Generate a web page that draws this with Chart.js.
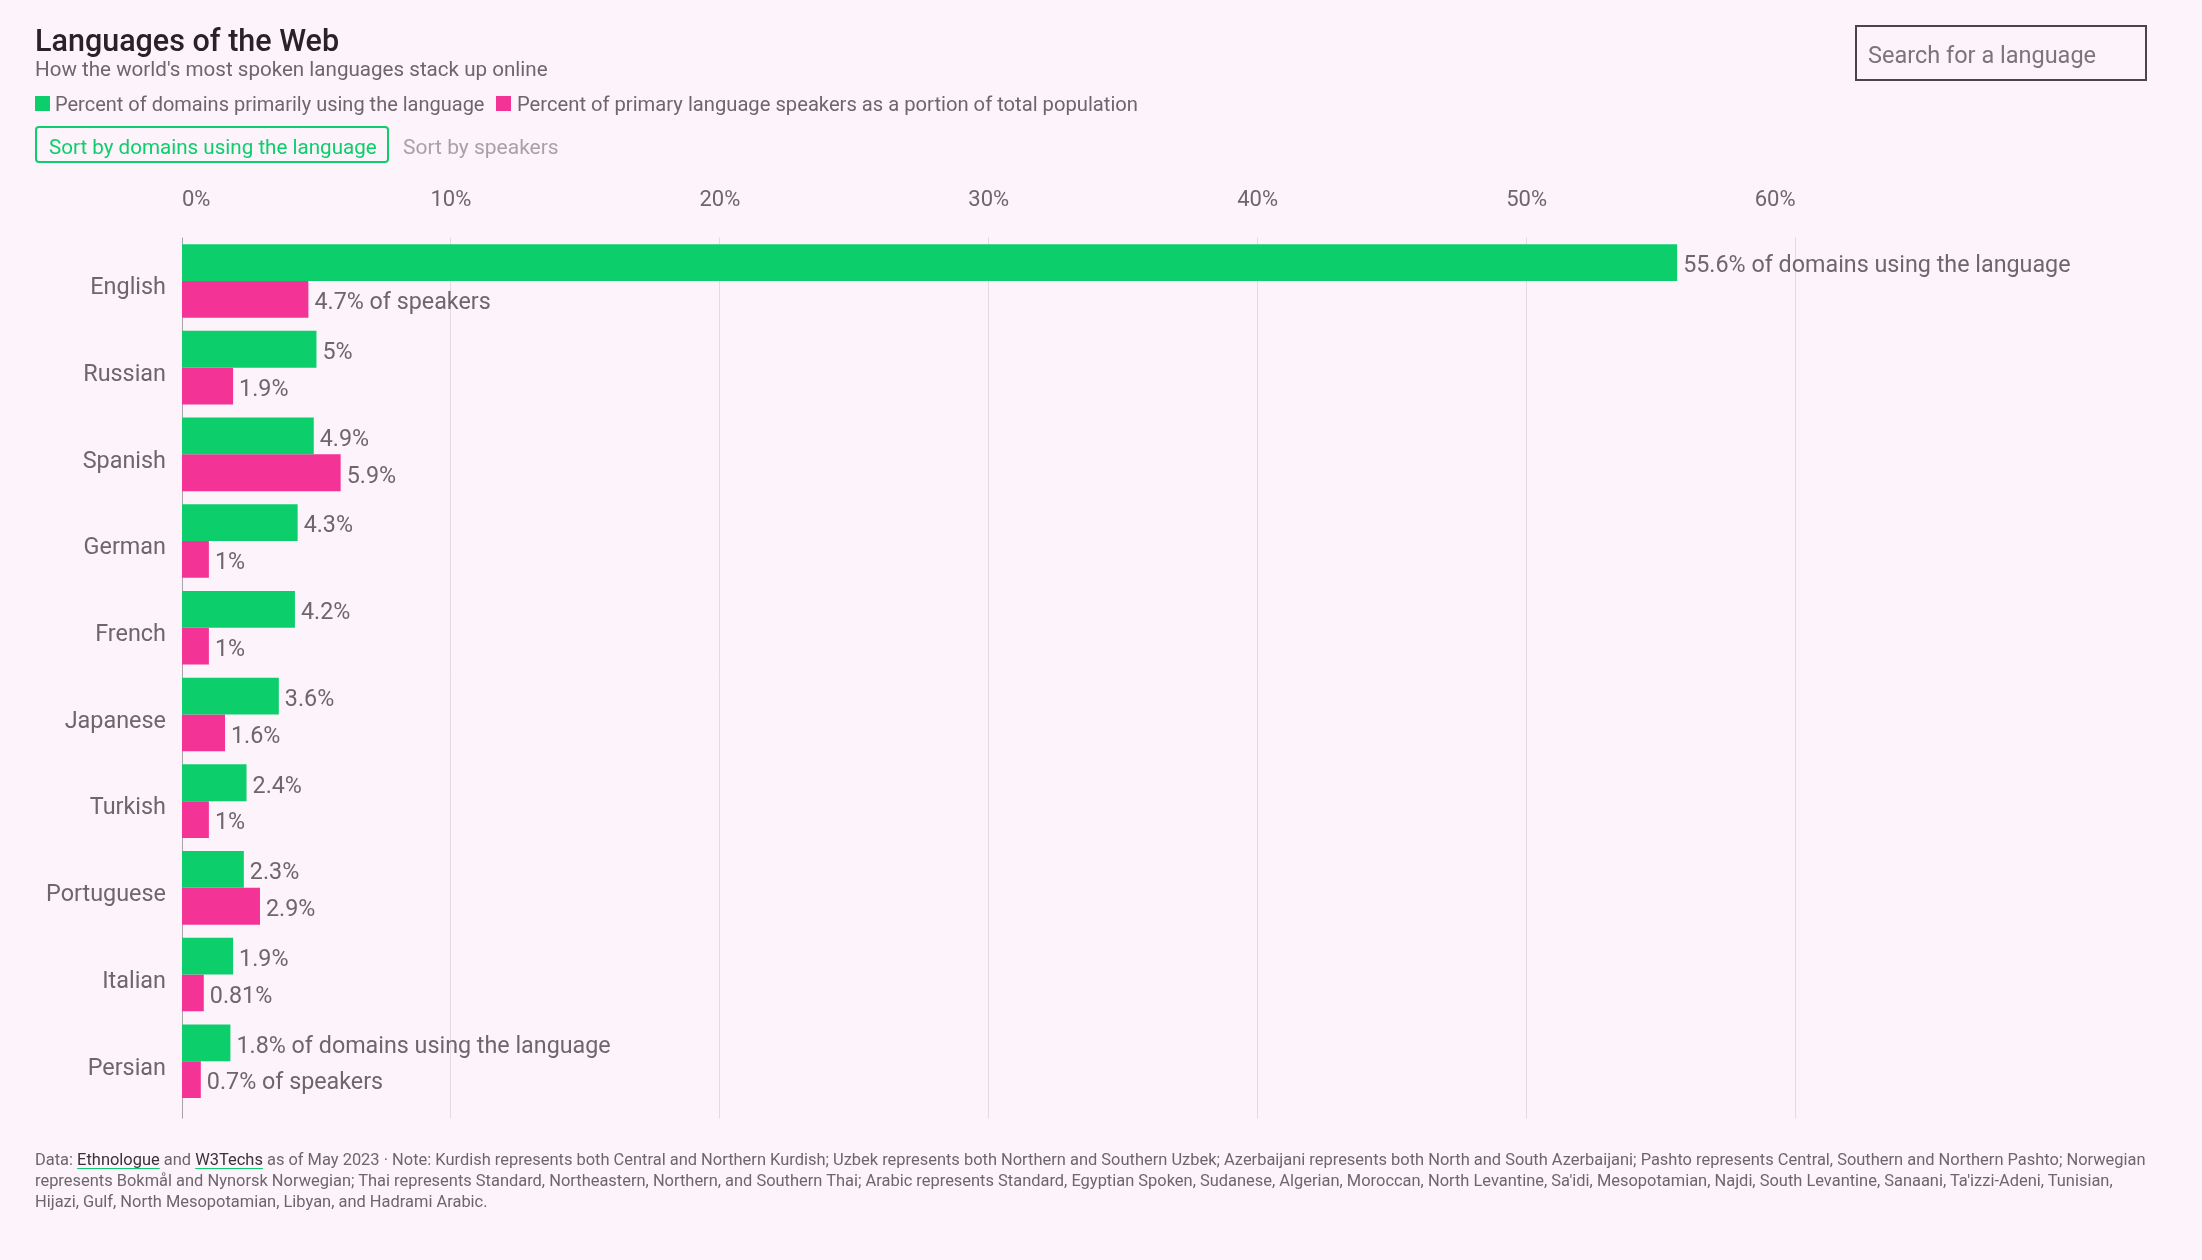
<!DOCTYPE html>
<html>
<head>
<meta charset="utf-8">
<title>Languages of the Web</title>
<script src="https://cdn.jsdelivr.net/npm/chart.js@4/dist/chart.umd.min.js"></script>
<style>
html,body{margin:0;padding:0;background:#fdf3fa;}
body{width:2202px;height:1260px;position:relative;overflow:hidden;font-family:Roboto,sans-serif;color:#6f656d;}
#c{position:absolute;left:0;top:0;}
.t{position:absolute;white-space:nowrap;line-height:1;}
#title{left:35px;top:26px;font-size:30.5px;font-weight:500;color:#2a2228;}
#sub{left:35px;top:59px;font-size:20.6px;}
.sw{position:absolute;top:96px;width:15px;height:15px;}
#btn1{position:absolute;left:35px;top:126px;width:350px;height:33px;border:2px solid #0ccf6c;border-radius:4px;}
#search{position:absolute;left:1855px;top:25px;width:288px;height:52px;border:2px solid #4d444b;}
#foot{position:absolute;left:35px;top:1149px;font-size:16.45px;line-height:21px;white-space:nowrap;}
#foot u{color:#3a3238;text-decoration-color:#0ccf6c;text-underline-offset:3px;}
</style>
</head>
<body>
<canvas id="c" width="2202" height="1260"></canvas>
<div class="t" id="title">Languages of the Web</div>
<div class="t" id="sub">How the world's most spoken languages stack up online</div>
<div class="sw" style="left:35px;background:#0ccf6c"></div>
<div class="t" style="left:55px;top:94px;font-size:20px">Percent of domains primarily using the language</div>
<div class="sw" style="left:496px;background:#f43397"></div>
<div class="t" style="left:517px;top:94px;font-size:20.2px">Percent of primary language speakers as a portion of total population</div>
<div id="btn1"></div>
<div class="t" style="left:49px;top:137px;font-size:20.6px;color:#0ccf6c">Sort by domains using the language</div>
<div class="t" style="left:403px;top:137px;font-size:21px;color:#a9a1a7">Sort by speakers</div>
<div id="search"></div>
<div class="t" style="left:1868px;top:44px;font-size:23.5px;color:#7d747b">Search for a language</div>
<div id="foot">Data: <u>Ethnologue</u> and <u>W3Techs</u> as of May 2023 · Note: Kurdish represents both Central and Northern Kurdish; Uzbek represents both Northern and Southern Uzbek; Azerbaijani represents both North and South Azerbaijani; Pashto represents Central, Southern and Northern Pashto; Norwegian<br>represents Bokmål and Nynorsk Norwegian; Thai represents Standard, Northeastern, Northern, and Southern Thai; Arabic represents Standard, Egyptian Spoken, Sudanese, Algerian, Moroccan, North Levantine, Sa'idi, Mesopotamian, Najdi, South Levantine, Sanaani, Ta'izzi-Adeni, Tunisian,<br>Hijazi, Gulf, North Mesopotamian, Libyan, and Hadrami Arabic.</div>
<script>
const LANGS=['English','Russian','Spanish','German','French','Japanese','Turkish','Portuguese','Italian','Persian'];
const DOMAINS=[55.6,5,4.9,4.3,4.2,3.6,2.4,2.3,1.9,1.8];
const SPEAKERS=[4.7,1.9,5.9,1,1,1.6,1,2.9,0.81,0.7];
const GRID='#e2dbe0',TXT='#6f656d';

// value labels next to bars, first and last row carry the long text
const barLabels={id:'barLabels',afterDatasetsDraw(chart){
  const ctx=chart.ctx;
  ctx.save();
  ctx.font='23.3px Roboto';ctx.fillStyle=TXT;ctx.textAlign='left';ctx.textBaseline='middle';
  chart.data.datasets.forEach((ds,d)=>{
    chart.getDatasetMeta(d).data.forEach((bar,i)=>{
      let s=ds.data[i]+'%';
      if(i===0||i===LANGS.length-1) s+=d===0?' of domains using the language':' of speakers';
      ctx.fillText(s,bar.x+6,bar.y+4);
    });
  });
  ctx.restore();
}};

// gridlines run a bit past the last row, so they are drawn here instead of by the scale
const gridLines={id:'gridLines',beforeDatasetsDraw(chart){
  const ctx=chart.ctx,x=chart.scales.x,a=chart.chartArea;
  ctx.save();ctx.lineWidth=1;
  x.ticks.forEach(t=>{
    const px=Math.floor(x.getPixelForValue(t.value))+0.5;
    ctx.strokeStyle=t.value===0?'#a9a2a7':GRID;
    ctx.beginPath();ctx.moveTo(px,a.top);ctx.lineTo(px,a.bottom+14);ctx.stroke();
  });
  ctx.restore();
}};

new Chart(document.getElementById('c').getContext('2d'),{
  type:'bar',
  data:{labels:LANGS,datasets:[
    {label:'Percent of domains primarily using the language',data:DOMAINS,backgroundColor:'#0ccf6c'},
    {label:'Percent of primary language speakers as a portion of total population',data:SPEAKERS,backgroundColor:'#f43397'},
  ]},
  options:{indexAxis:'y',responsive:false,animation:false,
    categoryPercentage:0.849,barPercentage:1,
    layout:{padding:{left:0,top:0,right:406.5,bottom:155.4}},
    plugins:{legend:{display:false},tooltip:{enabled:false}},
    scales:{
      x:{position:'top',min:0,max:60,afterFit:s=>{s.height=237.6;},
        grid:{display:false,drawTicks:false},border:{display:false},
        ticks:{stepSize:10,align:'inner',padding:24,maxRotation:0,color:TXT,font:{family:'Roboto',size:22},callback:v=>v+'%'}},
      y:{afterFit:s=>{s.width=182;},
        grid:{display:false,drawTicks:false},border:{display:false},
        ticks:{padding:16,labelOffset:7.5,color:TXT,font:{family:'Roboto',size:23.4}}}
    }
  },
  plugins:[gridLines,barLabels]
});
</script>
</body>
</html>
